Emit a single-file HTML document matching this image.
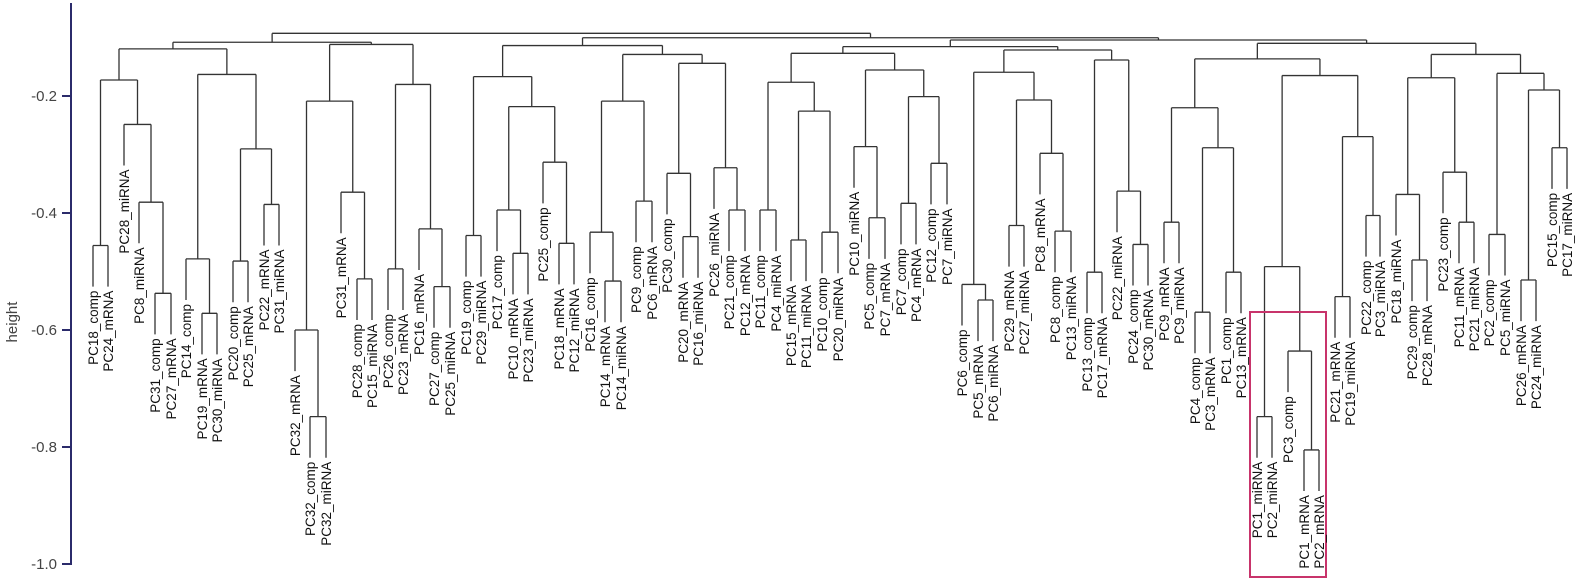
<!DOCTYPE html>
<html><head><meta charset="utf-8"><style>
html,body{margin:0;padding:0;background:#fff}
svg{display:block}
.lb{font-family:"Liberation Sans",sans-serif;font-size:13.5px;fill:#111}
.ax{font-family:"Liberation Sans",sans-serif;font-size:15px;fill:#444}
</style></head><body>
<svg id="s" width="1575" height="583" viewBox="0 0 1575 583" xmlns="http://www.w3.org/2000/svg">
<g stroke="#2b2b6b" stroke-width="2" fill="none">
<line x1="71" y1="3" x2="71" y2="565"/>
<line x1="62" y1="96" x2="71" y2="96"/>
<line x1="62" y1="213" x2="71" y2="213"/>
<line x1="62" y1="330" x2="71" y2="330"/>
<line x1="62" y1="447" x2="71" y2="447"/>
<line x1="62" y1="564" x2="71" y2="564"/>
</g>
<text class="ax" x="57" y="101" text-anchor="end">-0.2</text>
<text class="ax" x="57" y="218" text-anchor="end">-0.4</text>
<text class="ax" x="57" y="335" text-anchor="end">-0.6</text>
<text class="ax" x="57" y="452" text-anchor="end">-0.8</text>
<text class="ax" x="57" y="569" text-anchor="end">-1.0</text>
<text class="ax" transform="translate(17,322) rotate(-90)" text-anchor="middle">height</text>
<g id="lines" stroke="#333" stroke-width="1.3" fill="none"></g>
<rect x="1250" y="312" width="76" height="265" fill="none" stroke="#c8346b" stroke-width="2"/>
<g id="labels">
<text class="lb">PC18_comp</text><text class="lb">PC24_mRNA</text><text class="lb">PC28_miRNA</text><text class="lb">PC8_miRNA</text><text class="lb">PC31_comp</text><text class="lb">PC27_mRNA</text><text class="lb">PC14_comp</text><text class="lb">PC19_mRNA</text><text class="lb">PC30_miRNA</text><text class="lb">PC20_comp</text><text class="lb">PC25_mRNA</text><text class="lb">PC22_mRNA</text><text class="lb">PC31_miRNA</text><text class="lb">PC32_mRNA</text><text class="lb">PC32_comp</text><text class="lb">PC32_miRNA</text><text class="lb">PC31_mRNA</text><text class="lb">PC28_comp</text><text class="lb">PC15_miRNA</text><text class="lb">PC26_comp</text><text class="lb">PC23_mRNA</text><text class="lb">PC16_mRNA</text><text class="lb">PC27_comp</text><text class="lb">PC25_miRNA</text><text class="lb">PC19_comp</text><text class="lb">PC29_miRNA</text><text class="lb">PC17_comp</text><text class="lb">PC10_mRNA</text><text class="lb">PC23_miRNA</text><text class="lb">PC25_comp</text><text class="lb">PC18_mRNA</text><text class="lb">PC12_miRNA</text><text class="lb">PC16_comp</text><text class="lb">PC14_mRNA</text><text class="lb">PC14_miRNA</text><text class="lb">PC9_comp</text><text class="lb">PC6_mRNA</text><text class="lb">PC30_comp</text><text class="lb">PC20_mRNA</text><text class="lb">PC16_miRNA</text><text class="lb">PC26_miRNA</text><text class="lb">PC21_comp</text><text class="lb">PC12_mRNA</text><text class="lb">PC11_comp</text><text class="lb">PC4_miRNA</text><text class="lb">PC15_mRNA</text><text class="lb">PC11_miRNA</text><text class="lb">PC10_comp</text><text class="lb">PC20_miRNA</text><text class="lb">PC10_miRNA</text><text class="lb">PC5_comp</text><text class="lb">PC7_mRNA</text><text class="lb">PC7_comp</text><text class="lb">PC4_mRNA</text><text class="lb">PC12_comp</text><text class="lb">PC7_miRNA</text><text class="lb">PC6_comp</text><text class="lb">PC5_mRNA</text><text class="lb">PC6_miRNA</text><text class="lb">PC29_mRNA</text><text class="lb">PC27_miRNA</text><text class="lb">PC8_mRNA</text><text class="lb">PC8_comp</text><text class="lb">PC13_miRNA</text><text class="lb">PC13_comp</text><text class="lb">PC17_mRNA</text><text class="lb">PC22_miRNA</text><text class="lb">PC24_comp</text><text class="lb">PC30_mRNA</text><text class="lb">PC9_mRNA</text><text class="lb">PC9_miRNA</text><text class="lb">PC4_comp</text><text class="lb">PC3_mRNA</text><text class="lb">PC1_comp</text><text class="lb">PC13_mRNA</text><text class="lb">PC1_miRNA</text><text class="lb">PC2_miRNA</text><text class="lb">PC3_comp</text><text class="lb">PC1_mRNA</text><text class="lb">PC2_mRNA</text><text class="lb">PC21_mRNA</text><text class="lb">PC19_miRNA</text><text class="lb">PC22_comp</text><text class="lb">PC3_miRNA</text><text class="lb">PC18_miRNA</text><text class="lb">PC29_comp</text><text class="lb">PC28_mRNA</text><text class="lb">PC23_comp</text><text class="lb">PC11_mRNA</text><text class="lb">PC21_miRNA</text><text class="lb">PC2_comp</text><text class="lb">PC5_miRNA</text><text class="lb">PC26_mRNA</text><text class="lb">PC24_miRNA</text><text class="lb">PC15_comp</text><text class="lb">PC17_miRNA</text>
</g>
</svg>
<script>
var SY=1.111;
function L(x){return {leaf:true,x:x};}
function N(a,b,h){return {a:a,b:b,h:h*SY,x:(a.x+b.x)/2};}
var T1=N(N(L(93),L(108),221),N(L(124),N(L(139),N(L(155),L(171),264),182),112),72);
var T2=N(N(L(186),N(L(202),L(217),282),233),N(N(L(233),L(248),235),N(L(264),L(279),184),134),67);
var A=N(T1,T2,44);
var T3=N(N(L(295),N(L(310),L(326),375),297),N(L(341),N(L(357),L(372),251),173),91);
var T4=N(N(L(388),L(403),242),N(L(419),N(L(434),L(450),258),206),76);
var B=N(T3,T4,40);
var Left=N(A,B,38);
var C1=N(N(L(466),L(481),212),N(N(L(497),N(L(513),L(528),228),189),N(L(543),N(L(559),L(574),219),146),96),69);
var C2=N(N(N(L(590),N(L(605),L(621),253),209),N(L(636),L(652),181),91),N(N(L(667),N(L(683),L(698),213),156),N(L(714),N(L(729),L(745),189),151),57),49);
var C=N(C1,C2,41);
var D1=N(N(L(760),L(776),189),N(N(L(791),L(806),216),N(L(822),L(838),209),100),74);
var D2=N(N(L(854),N(L(869),L(885),196),132),N(N(L(901),L(916),183),N(L(931),L(947),147),87),63);
var D=N(D1,D2,48);
var E1=N(N(L(962),N(L(978),L(993),270),256),N(N(L(1009),L(1024),203),N(L(1040),N(L(1055),L(1071),208),138),90),65);
var E2=N(N(L(1087),L(1102),245),N(L(1117),N(L(1133),L(1148),220),172),54);
var E=N(E1,E2,45);
var DE=N(D,E,42);
var F1=N(N(L(1164),L(1179),200),N(N(L(1195),L(1210),281),N(L(1226),L(1241),245),133),97);
var F2=N(N(N(L(1257),L(1272),375),N(L(1288),N(L(1304),L(1319),405),316),240),N(N(L(1335),L(1350),267),N(L(1366),L(1380),194),123),68);
var F=N(F1,F2,53);
var G=N(N(N(L(1396),N(L(1412),L(1427),234),175),N(L(1443),N(L(1459),L(1474),200),155),70),N(N(L(1489),L(1505),211),N(N(L(1521),L(1536),252),N(L(1552),L(1567),133),81),66),49);
var FG=N(F,G,39);
var R2=N(DE,FG,36);
var R1=N(C,R2,34);
var Root=N(Left,R1,30);
var d="",leaves=[],HANG=37*SY;
function walk2(n){
  d+="M"+n.a.x+" "+n.h+"H"+n.b.x;
  [n.a,n.b].forEach(function(k){
    var y2;
    if(k.leaf){y2=n.h+HANG;k.bottom=y2;leaves.push(k);}else{y2=k.h;}
    d+="M"+k.x+" "+n.h+"V"+y2;
    if(!k.leaf) walk2(k);
  });
}
walk2(Root);
var p=document.createElementNS("http://www.w3.org/2000/svg","path");
p.setAttribute("d",d);document.getElementById("lines").appendChild(p);
var ts=document.querySelectorAll("#labels text");
for(var i=0;i<ts.length&&i<leaves.length;i++){
  var lf=leaves[i];
  ts[i].setAttribute("text-anchor","end");
  ts[i].setAttribute("transform","translate("+(lf.x+5)+","+(lf.bottom+4)+") rotate(-90)");
}
</script>
</body></html>
